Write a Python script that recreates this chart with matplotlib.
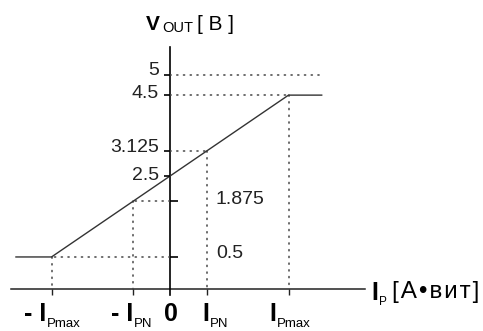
import matplotlib
matplotlib.use("Agg")
import matplotlib.pyplot as plt

plt.rcParams['font.family'] = ['Liberation Sans', 'DejaVu Sans']

# transfer characteristic, I_P in units of I_Pmax
ip_ticks = [-1.0, -0.3125, 0.0, 0.3125, 1.0]
ip_main = ['- I', '- I', '0', 'I', 'I']
ip_sub = ['Pmax', 'PN', '', 'PN', 'Pmax']
v_left = [5.0, 4.5, 3.125, 2.5]
v_right = [1.875, 0.5]
curve_ip = [-1.30, -1.0, 1.0, 1.28]
curve_v = [0.5, 0.5, 4.5, 4.5]
v_supply = 5.0
supply_end = 1.266
guide_ip = [-1.0, -0.3125, 0.3125, 1.0]
guide_v = [0.5, 1.875, 3.125, 4.5]

# where the horizontal axis sits on the voltage scale (schematic, not 0 V)
axis_v = -0.29

fig = plt.figure(figsize=(4.83, 3.31), dpi=100)
ax = fig.add_axes([0, 0, 1, 1])
ax.set_xlim(-1.4346, 2.641)
ax.set_ylim(-1.330, 6.851)
ax.axis('off')

dot = dict(color='#444444', lw=1.1, linestyle=(0, (0.8, 3.6)), dash_capstyle='round')

# axes
ax.plot([-1.342, 1.646], [axis_v, axis_v], color='#222222', lw=1.1)
ax.plot([0, 0], [axis_v - 0.15, 5.69], color='black', lw=1.2)

# dotted guide lines
ax.plot([0, supply_end], [v_supply, v_supply], **dot)
for ip, v in zip(guide_ip, guide_v):
    ax.plot([0, ip], [v, v], **dot)
    ax.plot([ip, ip], [v, axis_v], **dot)

# curve
ax.plot(curve_ip, curve_v, color='#333333', lw=1.0)

# ticks
for ip in ip_ticks:
    if ip != 0:
        ax.plot([ip], [axis_v], marker=3, markersize=4.5, color='#222222', mew=1.0)
for v in v_left:
    ax.plot([0], [v], marker=0, markersize=4.5, color='black', mew=1.2)
for v in v_right:
    ax.plot([0], [v], marker=1, markersize=6, color='black', mew=1.2)

# y tick labels
yoff = {5.0: 3.4, 4.5: 1, 3.125: 2.5, 2.5: 0.6, 1.875: 1.6, 0.5: 2.3}
for v in v_left:
    ax.annotate(f'{v:g}', (0, v), xytext=(-8, yoff[v]), textcoords='offset points',
                ha='right', va='center', fontsize=14, color='#222222')
for v in v_right:
    ax.annotate(f'{v:g}', (0, v), xytext=(33, yoff[v]), textcoords='offset points',
                ha='left', va='center', fontsize=14, color='#222222')

# x tick labels: bold main part plus lowered subscript
xoff = [-3.6, 0.4, 0.7, 1.8, -8.6]
for ip, main, sub, dx in zip(ip_ticks, ip_main, ip_sub, xoff):
    ax.annotate(main, (ip, axis_v), xytext=(dx, -23), textcoords='offset points',
                ha='center' if not sub else 'right', va='baseline',
                fontsize=18, fontweight='bold', color='black')
    if sub:
        ax.annotate(sub, (ip, axis_v), xytext=(dx, -27.3), textcoords='offset points',
                    ha='left', va='baseline', fontsize=9.5, color='black')

# axis titles (figure pixel positions)
ax.annotate('V', (160, 301), xycoords='figure pixels', ha='right', va='baseline',
            fontsize=15, fontweight='bold')
ax.annotate('OUT', (162, 299), xycoords='figure pixels', ha='left', va='baseline',
            fontsize=10.5)
ax.annotate('[ B ]', (197, 301), xycoords='figure pixels', ha='left', va='baseline',
            fontsize=15)
ax.annotate('I', (378, 31), xycoords='figure pixels', ha='right', va='baseline',
            fontsize=18, fontweight='bold')
ax.annotate('P', (379, 26), xycoords='figure pixels', ha='left', va='baseline',
            fontsize=8.5)
ax.annotate('[\u200aA\u200a•\u200aв\u200aи\u200aт\u200a]', (392, 33), xycoords='figure pixels',
            ha='left', va='baseline', fontsize=17.5)

fig.savefig('out.png', dpi=100)
